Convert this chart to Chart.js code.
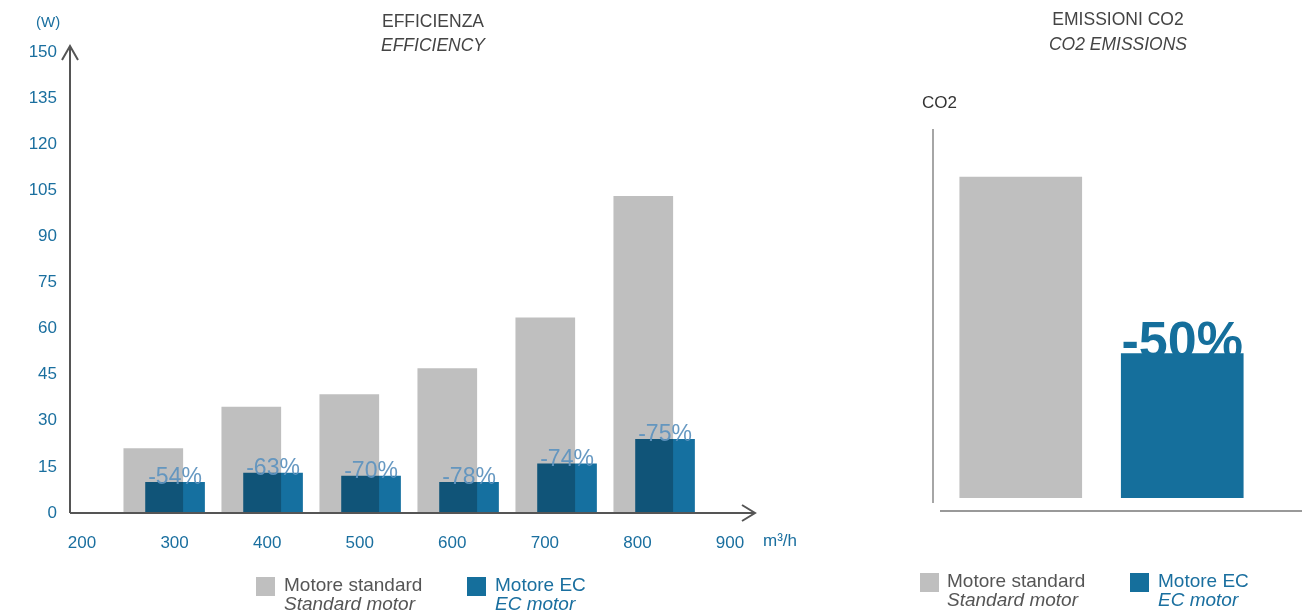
<!DOCTYPE html>
<html>
<head>
<meta charset="utf-8">
<script src="https://cdn.jsdelivr.net/npm/chart.js@4.4.1/dist/chart.umd.min.js"></script>
<style>
body { margin: 0; width: 1309px; height: 612px; position: relative; background: #fff; overflow: hidden;
  font-family: "Liberation Sans", Arial, sans-serif; }
canvas { position: absolute; top: 0; }
#effChart { left: 0; }
#co2Chart { left: 900px; }
.t { position: absolute; white-space: nowrap; line-height: 1; }
.title { color: #444; font-size: 17.5px; text-align: center; width: 240px; }
.i { font-style: italic; }
.blue { color: #1a6f9f; }
.grey { color: #555; }
.sq { position: absolute; width: 19px; height: 19px; }
.leg { font-size: 19px; }
</style>
</head>
<body>
<canvas id="effChart" width="900" height="612"></canvas>
<canvas id="co2Chart" width="409" height="612"></canvas>

<!-- testi -->
<div class="t blue" style="left:36px;top:14px;font-size:15px;">(W)</div>
<div class="t title" style="left:313px;top:13px;">EFFICIENZA</div>
<div class="t title i" style="left:313px;top:37px;">EFFICIENCY</div>
<div class="t blue" style="left:763px;top:532px;font-size:17px;">m³/h</div>

<div class="t title" style="left:998px;top:11px;">EMISSIONI CO2</div>
<div class="t title i" style="left:998px;top:36px;">CO2 EMISSIONS</div>
<div class="t" style="left:922px;top:94px;font-size:17px;color:#333;">CO2</div>

<!-- legende -->
<div class="sq" style="left:256px;top:577px;background:#bfbfbf;"></div>
<div class="t leg grey" style="left:284px;top:575px;">Motore standard</div>
<div class="t leg grey i" style="left:284px;top:594px;">Standard motor</div>
<div class="sq" style="left:467px;top:577px;background:#156f9c;"></div>
<div class="t leg blue" style="left:495px;top:575px;">Motore EC</div>
<div class="t leg blue i" style="left:495px;top:594px;">EC motor</div>

<div class="sq" style="left:920px;top:573px;background:#bfbfbf;"></div>
<div class="t leg grey" style="left:947px;top:571px;">Motore standard</div>
<div class="t leg grey i" style="left:947px;top:590px;">Standard motor</div>
<div class="sq" style="left:1130px;top:573px;background:#156f9c;"></div>
<div class="t leg blue" style="left:1158px;top:571px;">Motore EC</div>
<div class="t leg blue i" style="left:1158px;top:590px;">EC motor</div>

<script>
// Dati efficienza
const flows = [300, 400, 500, 600, 700, 800];
const standardW = [21, 34.5, 38.5, 47, 63.5, 103];
const ecW = [10, 13, 12, 10, 16, 24];
const savings = ['-54%', '-63%', '-70%', '-78%', '-74%', '-75%'];
const xTicks = [200, 300, 400, 500, 600, 700, 800, 900];

// Dati CO2
const co2Labels = ['Motore standard', 'Motore EC'];
const co2Values = [100, 45];
const co2Saving = '-50%';

const GREY = '#bfbfbf';
const BLUE = '#156f9c';
const TICK_BLUE = '#1a6f9f';
const FONT = '"Liberation Sans", Arial, sans-serif';

// barre EC in multiply sopra le grigie
const multiplyEC = {
  id: 'multiplyEC',
  beforeDatasetDraw(chart, args) {
    if (args.index === 1) {
      chart.ctx.save();
      chart.ctx.globalCompositeOperation = 'multiply';
    }
  },
  afterDatasetDraw(chart, args) {
    if (args.index === 1) chart.ctx.restore();
  }
};

// percentuali sopra le barre EC
const effLabels = {
  id: 'effLabels',
  afterDatasetsDraw(chart) {
    const ctx = chart.ctx;
    const meta = chart.getDatasetMeta(1);
    ctx.save();
    ctx.font = '23px ' + FONT;
    ctx.fillStyle = 'rgba(95,147,191,0.95)';
    ctx.textAlign = 'center';
    ctx.textBaseline = 'alphabetic';
    meta.data.forEach((bar, i) => ctx.fillText(savings[i], bar.x, bar.y + 2));
    ctx.restore();
  }
};

// assi con frecce
const effAxes = {
  id: 'effAxes',
  afterDraw(chart) {
    const {ctx, chartArea: {left, right, top, bottom}} = chart;
    ctx.save();
    ctx.strokeStyle = '#555';
    ctx.lineWidth = 2;
    ctx.beginPath();
    ctx.moveTo(left, bottom); ctx.lineTo(left, top - 6);
    ctx.moveTo(left - 8, top + 8); ctx.lineTo(left, top - 6); ctx.lineTo(left + 8, top + 8);
    ctx.moveTo(left, bottom); ctx.lineTo(right, bottom);
    ctx.moveTo(right - 13, bottom - 8); ctx.lineTo(right, bottom); ctx.lineTo(right - 13, bottom + 8);
    ctx.stroke();
    ctx.restore();
  }
};

const ctxEff = document.getElementById('effChart').getContext('2d');
const effChart = new Chart(ctxEff, {
  type: 'bar',
  data: {
    datasets: [{
      label: 'Motore standard',
      data: flows.map((f, i) => ({x: f, y: standardW[i]})),
      backgroundColor: GREY,
      xAxisID: 'xs',
      barThickness: 59,
      grouped: false,
      order: 2
    }, {
      label: 'Motore EC',
      data: flows.map((f, i) => ({x: f, y: ecW[i]})),
      backgroundColor: '#1570a0',
      xAxisID: 'xe',
      barThickness: 59,
      grouped: false,
      order: 1
    }]
  },
  options: {
    responsive: false,
    animation: false,
    layout: { padding: { left: 0, top: 52, right: 145, bottom: 0 } },
    plugins: {
      legend: { display: false },
      tooltip: { enabled: false }
    },
    scales: {
      y: {
        min: 0,
        max: 150,
        ticks: { stepSize: 15, color: TICK_BLUE, font: { size: 17, family: FONT }, padding: 13 },
        grid: { display: false, drawTicks: false },
        border: { display: false },
        afterFit: s => { s.width = 70; }
      },
      xs: { type: 'linear', min: 215, max: 914, offset: false, display: false },
      xe: { type: 'linear', min: 192.8, max: 891.8, offset: false, display: false },
      xl: {
        type: 'linear',
        position: 'bottom',
        offset: false,
        min: 187,
        max: 927,
        afterBuildTicks: s => { s.ticks = xTicks.map(v => ({value: v})); },
        ticks: { color: TICK_BLUE, font: { size: 17, family: FONT }, padding: 20 },
        grid: { display: false, drawTicks: false },
        border: { display: false },
        afterFit: s => { s.height = 99; }
      }
    }
  },
  plugins: [multiplyEC, effLabels, effAxes]
});

// grafico CO2
const co2Axes = {
  id: 'co2Axes',
  afterDraw(chart) {
    const {ctx, chartArea: {left, right, top, bottom}} = chart;
    ctx.save();
    ctx.strokeStyle = '#888';
    ctx.lineWidth = 1.5;
    ctx.beginPath();
    ctx.moveTo(left - 7, top); ctx.lineTo(left - 7, bottom + 5);
    ctx.stroke();
    ctx.strokeStyle = '#999';
    ctx.lineWidth = 2;
    ctx.beginPath();
    ctx.moveTo(left, bottom + 13); ctx.lineTo(right + 39, bottom + 13);
    ctx.stroke();
    ctx.restore();
  }
};

const co2Label = {
  id: 'co2Label',
  afterDatasetsDraw(chart) {
    const ctx = chart.ctx;
    const bar = chart.getDatasetMeta(0).data[1];
    ctx.save();
    ctx.font = 'bold 52px ' + FONT;
    ctx.fillStyle = BLUE;
    ctx.textAlign = 'center';
    ctx.textBaseline = 'alphabetic';
    ctx.fillText(co2Saving, bar.x, bar.y + 4);
    ctx.restore();
  }
};

const ctxCo2 = document.getElementById('co2Chart').getContext('2d');
const co2Chart = new Chart(ctxCo2, {
  type: 'bar',
  data: {
    labels: co2Labels,
    datasets: [{
      data: co2Values,
      backgroundColor: [GREY, BLUE],
      barThickness: 122
    }]
  },
  options: {
    responsive: false,
    animation: false,
    layout: { padding: { left: 40, right: 46, top: 129, bottom: 114 } },
    plugins: {
      legend: { display: false },
      tooltip: { enabled: false }
    },
    scales: {
      x: { display: false },
      y: { display: false, min: 0, max: 115 }
    }
  },
  plugins: [co2Axes, co2Label]
});
</script>
</body>
</html>
